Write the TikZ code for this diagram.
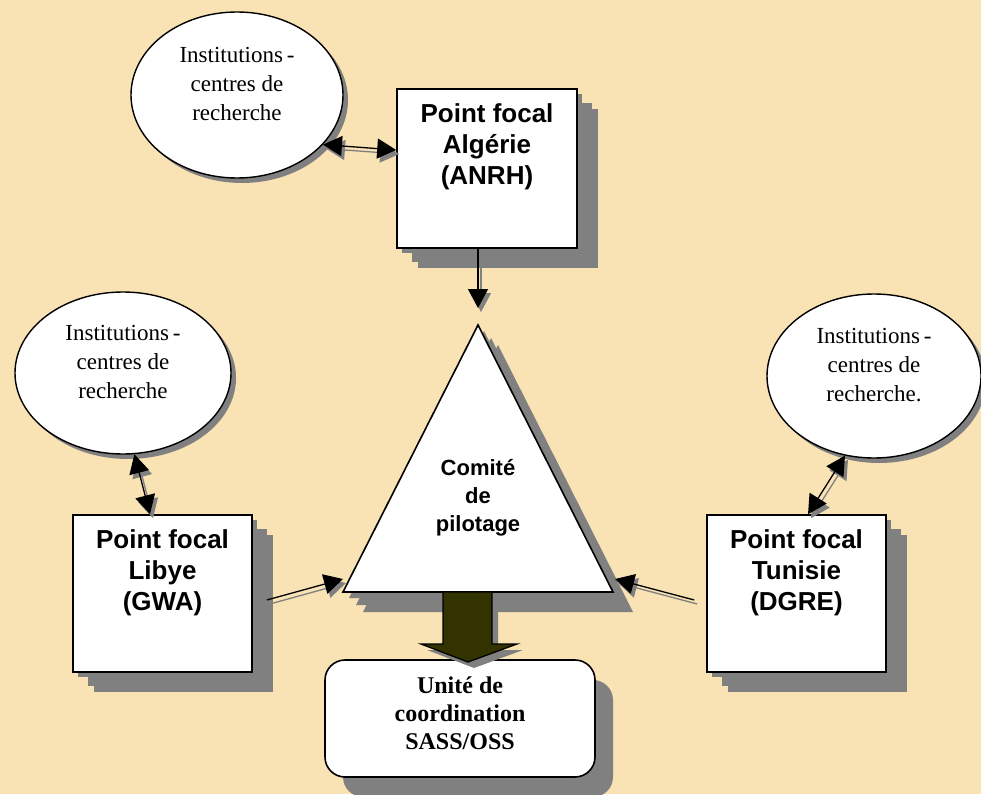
\documentclass[tikz,border=0pt]{standalone}
\usepackage{fontspec}
\setmainfont{Liberation Serif}
\setsansfont{Liberation Sans}
\usetikzlibrary{arrows.meta,shapes.geometric,shadows,calc}
\definecolor{bg}{RGB}{249,226,180}
\definecolor{shad}{RGB}{128,128,128}
\definecolor{olivedark}{RGB}{51,51,0}
\tikzset{
  ell/.style={ellipse, draw, line width=1.4pt, fill=white, inner sep=0pt,
    general shadow={shadow xshift=5pt, shadow yshift=-5pt, fill=shad, draw=none}},
  fbox/.style={rectangle, draw, line width=1.6pt, fill=white, inner sep=0pt,
    minimum width=179pt, minimum height=157pt,
    general shadow={shadow xshift=21pt, shadow yshift=-20pt, fill=shad, draw=none},
    general shadow={shadow xshift=15pt, shadow yshift=-14pt, fill=shad, draw=none},
    general shadow={shadow xshift=5pt, shadow yshift=-5pt, fill=shad, draw=none}},
  unitbox/.style={rectangle, rounded corners=20pt, draw, line width=1.6pt, fill=white, inner sep=0pt,
    minimum width=270pt, minimum height=117pt,
    general shadow={shadow xshift=18pt, shadow yshift=-20pt, fill=shad, draw=none}},
  boxtext/.style={font=\sffamily\bfseries\fontsize{26}{31}\selectfont, align=center, inner sep=0pt},
  cptext/.style={font=\sffamily\bfseries\fontsize{22}{28}\selectfont, align=center, inner sep=0pt},
  insttext/.style={font=\fontsize{23}{29}\selectfont, align=center, inner sep=0pt},
  unittext/.style={font=\bfseries\fontsize{24}{28}\selectfont, align=center, inner sep=0pt},
  dconn/.style={line width=1.3pt, {Triangle[length=19pt,width=20pt]}-{Triangle[length=19pt,width=20pt]}},
  sconn/.style={line width=1.3pt, -{Triangle[length=19pt,width=20pt]}},
  shadowln/.style={draw=shad, transform canvas={shift={(3pt,-4pt)}}},
}
\begin{document}
\begin{tikzpicture}[x=1pt,y=-1pt]
\useasboundingbox (0,0) rectangle (981,794);
\fill[bg] (0,0) rectangle (981,794);

% triangle (comite de pilotage)
\coordinate (apex) at (478,325);
\coordinate (bl) at (343,592);
\coordinate (br) at (613,592);
\foreach \s in {20,13,6}{
  \fill[shad] ($(apex)+(\s,\s)$) -- ($(bl)+(\s,\s)$) -- ($(br)+(\s,\s)$) -- cycle;
}
\draw[line width=1.6pt, fill=white] (apex) -- (bl) -- (br) -- cycle;
\node[cptext] (cp) at (478,498) {Comité\\de\\pilotage};

% ellipses
\node[ell, minimum width=212pt, minimum height=166pt] (iA) at (237,95) {};
\node[insttext] (iAt) at ([yshift=11pt]iA.center) {Institutions\,-\\centres de\\recherche};
\node[ell, minimum width=216pt, minimum height=162pt] (iL) at (123,373) {};
\node[insttext] (iLt) at ([yshift=11pt]iL.center) {Institutions\,-\\centres de\\recherche};
\node[ell, minimum width=214pt, minimum height=164pt] (iT) at (874,376) {};
\node[insttext] (iTt) at ([yshift=11pt]iT.center) {Institutions\,-\\centres de\\recherche.};

% focal point boxes
\node[fbox, minimum width=180pt, minimum height=159pt] (alg) at (487,168.5) {};
\node[boxtext, anchor=north] (algt) at ([yshift=-15pt]alg.north) {Point focal\\Algérie\\(ANRH)};
\node[fbox] (lib) at (162.5,593.5) {};
\node[boxtext, anchor=north] (libt) at ([yshift=-15pt]lib.north) {Point focal\\Libye\\(GWA)};
\node[fbox] (tun) at (796.5,593.5) {};
\node[boxtext, anchor=north] (tunt) at ([yshift=-15pt]tun.north) {Point focal\\Tunisie\\(DGRE)};

% unit box
\node[unitbox] (unit) at (460,718.5) {};
\node[unittext] (unitt) at ([yshift=5pt]unit.center) {Unité de\\coordination\\SASS/OSS};

% thick arrow
\fill[shad] (449,598) -- (449,650) -- (427,650) -- (474,668) -- (523,650) -- (498,650) -- (498,598) -- cycle;
\draw[line width=1.3pt, fill=olivedark] (443,592) -- (443,644) -- (421,644) -- (468,662) -- (517,644) -- (492,644) -- (492,592) -- cycle;

% connector end points at the triangle
\coordinate (apexT) at (478,308);
\coordinate (tl) at (343,579);
\coordinate (tr) at (615,579);

% connectors (shadow, then line)
\draw[dconn, shadowln] (iA.-30) -- ([yshift=18.5pt]alg.west);
\draw[dconn] (iA.-30) -- ([yshift=18.5pt]alg.west);
\draw[sconn, shadowln] ([xshift=-9pt]alg.south) -- (apexT);
\draw[sconn] ([xshift=-9pt]alg.south) -- (apexT);
\draw[dconn, shadowln] (iL.-82) -- ([xshift=-12.5pt]lib.north);
\draw[dconn] (iL.-82) -- ([xshift=-12.5pt]lib.north);
\draw[dconn, shadowln] (iT.-110) -- ([xshift=11.5pt]tun.north);
\draw[dconn] (iT.-110) -- ([xshift=11.5pt]tun.north);
\draw[sconn, shadowln] ([xshift=14pt,yshift=-6.5pt]lib.east) -- (tl);
\draw[sconn] ([xshift=14pt,yshift=-6.5pt]lib.east) -- (tl);
\draw[sconn, shadowln] ([xshift=-12pt,yshift=-6.5pt]tun.west) -- (tr);
\draw[sconn] ([xshift=-12pt,yshift=-6.5pt]tun.west) -- (tr);
\end{tikzpicture}
\end{document}
